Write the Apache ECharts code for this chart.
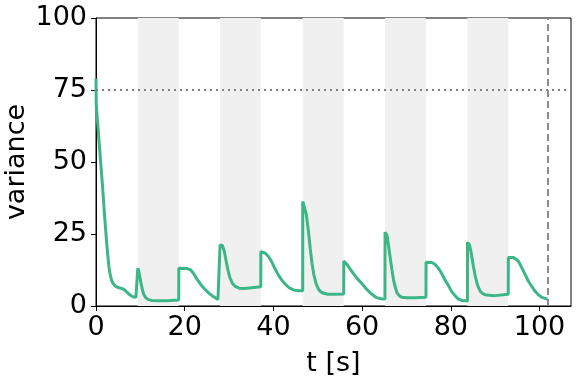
<!DOCTYPE html>
<html>
<head>
<meta charset="utf-8">
<script src="https://cdn.jsdelivr.net/npm/echarts@6/dist/echarts.min.js"></script>
<style>
	html, body { margin: 0; padding: 0; background: #fff; }
	#chart { width: 578px; height: 378px; }
</style>
</head>
<body>
<div id="chart"></div>
<script>
	// 时间 t [s] 和 variance 曲线
	const tValues = [
		0, 0.05, 0.3, 0.7, 1.1, 1.5, 1.9, 2.3, 2.6, 2.9, 3.2, 3.5, 3.9, 4.4, 5.0, 5.8, 6.5, 7.1, 7.7, 8.3, 9.0, 9.4,
		9.42, 9.6, 9.9, 10.2, 10.5, 10.8, 11.2, 11.7, 12.5, 14, 16, 18.65,
		18.67, 20.5, 21.3, 22, 22.7, 23.6, 24.5, 25.5, 26.5, 27.5, 27.95,
		27.97, 28.5, 28.9, 29.3, 29.7, 30.2, 30.7, 31.4, 32.3, 33.5, 35, 37.15,
		37.17, 38.1, 38.9, 39.6, 40.3, 41.1, 41.9, 42.7, 43.6, 44.5, 45.5, 46.6,
		46.62, 47.0, 47.4, 47.9, 48.3, 48.7, 49.1, 49.6, 50.1, 50.6, 51.3, 52.3, 54, 55.85,
		55.87, 56.5, 57.2, 58, 58.9, 59.9, 60.8, 61.8, 62.6, 63.3, 64.2, 65.15,
		65.17, 65.6, 65.9, 66.3, 66.7, 67.1, 67.5, 67.9, 68.4, 69, 70, 72, 74.4,
		74.42, 75.7, 76.5, 77.2, 78, 78.7, 79.5, 80.2, 81, 81.7, 82.6, 83.75,
		83.77, 84.2, 84.6, 85.1, 85.5, 85.9, 86.3, 86.7, 87.3, 88, 90, 92.95,
		92.97, 94.1, 94.7, 95.3, 96, 96.8, 97.5, 98.3, 99, 99.8, 100.7, 101.8
	]
	const varValues = [
		79, 70, 65, 57, 49, 41, 32, 24, 18.5, 13.8, 10.8, 9.0, 7.7, 6.9, 6.4, 6.1, 5.5, 4.6, 3.8, 3.2, 3.0, 3.1,
		13.1, 12.4, 10, 7.6, 5.4, 3.9, 2.9, 2.3, 1.95, 1.8, 1.85, 2.05,
		13.1, 13, 12.6, 11.3, 9.5, 7.5, 5.9, 4.4, 3.2, 2.3, 2.1,
		21.2, 21, 19.2, 16, 12.8, 9.8, 8, 6.8, 6.2, 6.1, 6.3, 6.7,
		18.9, 18.4, 17.2, 15.4, 13.1, 10.8, 9, 7.5, 6.3, 5.6, 5.3, 5.3,
		36.3, 35.8, 32, 26, 20, 14.8, 11, 7.9, 6, 5, 4.4, 4.1, 4.1, 4.2,
		15.6, 14.6, 13.1, 11.3, 9.5, 7.9, 6.2, 4.6, 3.6, 2.9, 2.5, 2.4,
		25.6, 24.7, 21.5, 17.1, 12.8, 9, 6.3, 4.5, 3.5, 3.0, 2.9, 2.9, 3,
		15.2, 15.1, 14.4, 13.1, 11.1, 9, 7, 5, 3.5, 2.4, 1.9, 1.7,
		22.1, 21.3, 18.5, 13.7, 10.5, 7.9, 6.2, 5, 4.2, 3.8, 3.6, 4.1,
		16.8, 16.8, 16.3, 15.4, 13.3, 10.8, 8.6, 6.7, 5.1, 3.8, 2.9, 2.4
	]
	// 灰色区间
	const bandStarts = [9.4, 27.95, 46.6, 65.15, 83.75]
	const bandEnds = [18.65, 37.15, 55.85, 74.4, 92.95]
	const hLine = 75
	const vLine = 101.9
	const xTicks = [0, 20, 40, 60, 80, 100]

	const font = 'DejaVu Sans'
	const myChart = echarts.init(document.getElementById('chart'), null, { renderer: 'canvas' })

	const option = {
		animation: false,
		backgroundColor: '#fff',
		grid: {
			left: 96,
			right: 7,
			top: 18,
			bottom: 72,
			outerBoundsMode: 'none',
			containLabel: false,
			show: true,
			borderColor: '#000',
			borderWidth: 1,
			backgroundColor: 'transparent'
		},
		xAxis: {
			type: 'value',
			min: 0,
			max: 107.1,
			name: 't [s]',
			nameLocation: 'middle',
			nameGap: 44,
			nameMoveOverlap: false,
			nameTextStyle: { fontFamily: font, fontSize: 27, color: '#000' },
			axisLine: { show: true, lineStyle: { color: '#000', width: 1 } },
			axisTick: { show: true, length: 5, customValues: xTicks, lineStyle: { color: '#000' } },
			axisLabel: { customValues: xTicks, margin: 8, fontFamily: font, fontSize: 27, color: '#000' },
			splitLine: { show: false }
		},
		yAxis: {
			type: 'value',
			min: 0,
			max: 100,
			interval: 25,
			name: 'variance',
			nameLocation: 'middle',
			nameRotate: 90,
			nameGap: 66,
			nameMoveOverlap: false,
			nameTextStyle: { fontFamily: font, fontSize: 27, color: '#000' },
			axisLine: { show: true, lineStyle: { color: '#000', width: 1 } },
			axisTick: { show: true, length: 5, lineStyle: { color: '#000' } },
			axisLabel: { margin: 9, fontFamily: font, fontSize: 27, color: '#000' },
			splitLine: { show: false }
		},
		series: [{
			type: 'line',
			data: tValues.map((t, i) => [t, varValues[i]]),
			showSymbol: false,
			smooth: false,
			lineStyle: { color: '#3cb587', width: 3 },
			z: 3,
			markArea: {
				silent: true,
				itemStyle: { color: '#f0f0f0' },
				data: bandStarts.map((s, i) => [{ xAxis: s }, { xAxis: bandEnds[i] }])
			},
			markLine: {
				silent: true,
				symbol: 'none',
				label: { show: false },
				data: [
					{ yAxis: hLine, lineStyle: { color: '#808080', type: [2, 4], width: 1.8 } },
					{ xAxis: vLine, lineStyle: { color: '#808080', type: [7, 4], width: 1.8 } }
				]
			}
		}]
	}

	myChart.setOption(option)
</script>
</body>
</html>
